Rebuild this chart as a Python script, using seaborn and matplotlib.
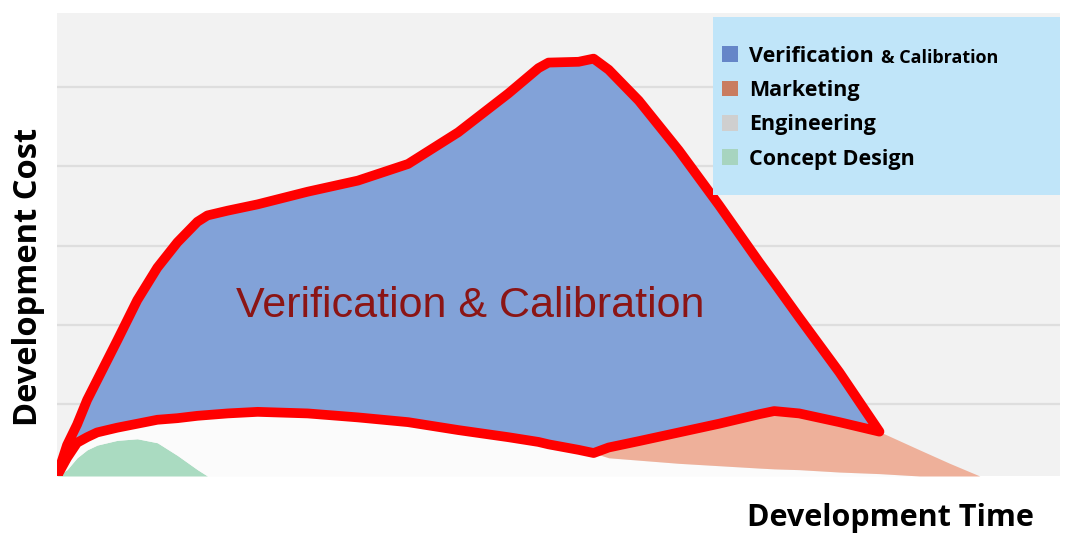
import numpy as np
import pandas as pd
import matplotlib
matplotlib.use("Agg")
import matplotlib.pyplot as plt
import seaborn as sns
from matplotlib import font_manager
from matplotlib.font_manager import FontProperties
from matplotlib.patches import Patch, Rectangle

# development phases stacked over time (arbitrary cost units)
time = [0, 1, 2, 3, 4, 6, 8, 10, 12, 14,
        15, 17, 20, 25, 30, 35, 40, 45, 48, 49,
        52, 53.5, 55, 58, 62, 66, 70, 71.5, 74, 78,
        82, 86, 89, 92]
concept_design = [0, 0.08, 0.23, 0.33, 0.39, 0.45, 0.47, 0.42, 0.26, 0.08,
                  0, 0, 0, 0, 0, 0, 0, 0, 0, 0,
                  0, 0, 0, 0, 0, 0, 0, 0, 0, 0,
                  0, 0, 0, 0]
engineering = [0, 0.15, 0.19, 0.16, 0.16, 0.16, 0.19, 0.29, 0.47, 0.68,
               0.77, 0.79, 0.81, 0.79, 0.74, 0.68, 0.58, 0.49, 0.43, 0.40,
               0.33, 0.29, 0.23, 0.20, 0.16, 0.13, 0.10, 0.09, 0.08, 0.05,
               0.03, 0, 0, 0]
marketing = [0, 0, 0, 0, 0, 0, 0, 0, 0, 0,
             0, 0, 0, 0, 0, 0, 0, 0, 0, 0,
             0, 0, 0.13, 0.24, 0.39, 0.53, 0.68, 0.73, 0.71, 0.63,
             0.53, 0.33, 0.16, 0]
verification = [0, 0.16, 0.23, 0.47, 0.66, 1.10, 1.56, 1.92, 2.22, 2.45,
                2.52, 2.56, 2.62, 2.80, 2.99, 3.26, 3.76, 4.34, 4.72, 4.82,
                4.90, 4.98, 4.77, 4.30, 3.56, 2.76, 1.92, 1.62, 1.21, 0.63,
                0, 0, 0, 0]

legend_labels = ['Verification', 'Marketing', 'Engineering', 'Concept Design']
fill_colors = ['#AADBC1', '#FBFBFB', '#EEB09A', '#82A2D8']
legend_colors = ['#6686C8', '#C97C60', '#CFCFCF', '#A7D4BF']

sns.set_theme(style="whitegrid")
plt.rcParams['font.family'] = ['Open Sans', 'DejaVu Sans']

names = {f.name for f in font_manager.fontManager.ttflist}
if 'Liberation Sans Narrow' in names:
    big_font, big_size = 'Liberation Sans Narrow', 37
else:
    big_font, big_size = 'Liberation Sans', 31

fig = plt.figure(figsize=(10.8, 5.47), dpi=100)
ax = fig.add_axes([0.0528, 0.1298, 0.9287, 0.8470])
ax.set_facecolor('#F2F2F2')

ax.stackplot(time, concept_design, engineering, marketing, verification,
             colors=fill_colors, linewidth=0)

# red outline round the verification band
df = pd.DataFrame({'time': time, 'c': concept_design, 'e': engineering,
                   'm': marketing, 'v': verification})
df['base'] = df['c'] + df['e'] + df['m']
df['top'] = df['base'] + df['v']
band = df[df['time'] <= 82]
outline = pd.DataFrame({
    'x': list(band['time']) + list(band['time'][::-1]),
    'y': list(band['top']) + list(band['base'][::-1]),
})
sns.lineplot(data=outline, x='x', y='y', sort=False, estimator=None,
             color='#FF0000', linewidth=7, ax=ax,
             solid_joinstyle='round', solid_capstyle='round')

ax.text(41.2, 2.01, 'Verification & Calibration', ha='center', va='baseline',
        color='#8B1515', fontsize=big_size, family=big_font)

ax.set_xlim(0, 100)
ax.set_ylim(0, 5.85)
ax.set_xticks([])
ax.set_yticks(np.arange(1, 6) - 0.09)
ax.tick_params(axis='y', left=False, labelleft=False)
ax.grid(axis='y', color='#DEDEDE', linewidth=1.6)
ax.grid(axis='x', visible=False)
for s in ax.spines.values():
    s.set_visible(False)

ax.set_xlabel('Development Time', fontfamily='Open Sans', fontweight='bold',
              fontsize=22, color='black')
ax.xaxis.set_label_coords(0.8305, -0.058)
ax.set_ylabel('Development Cost', fontfamily='Open Sans', fontweight='bold',
              fontsize=23.5, color='black')
ax.yaxis.set_label_coords(-0.012, 0.43)

# legend box
ax.add_patch(Rectangle((0.654, 0.6065), 0.346, 0.384, transform=ax.transAxes,
                       facecolor='#C0E5F9', edgecolor='none', zorder=3))
handles = [Patch(facecolor=c, edgecolor='none') for c in legend_colors]
leg = ax.legend(handles, legend_labels, loc='upper left',
                bbox_to_anchor=(0.663, 0.929), frameon=False,
                prop=FontProperties(family='Open Sans', weight='bold', size=15.5),
                labelcolor='black',
                handlelength=0.75, handleheight=0.75, handletextpad=0.5,
                labelspacing=0.62, borderaxespad=0, borderpad=0)
leg.set_zorder(5)

fig.canvas.draw()
bb = leg.get_texts()[0].get_window_extent()
fig.text((bb.x1 + 7) / fig.bbox.width, bb.y0 / fig.bbox.height, '& Calibration',
         fontfamily='Open Sans', fontweight='bold', fontsize=13, color='black',
         va='bottom', zorder=6)

fig.savefig('out.png', dpi=100, facecolor='white')
